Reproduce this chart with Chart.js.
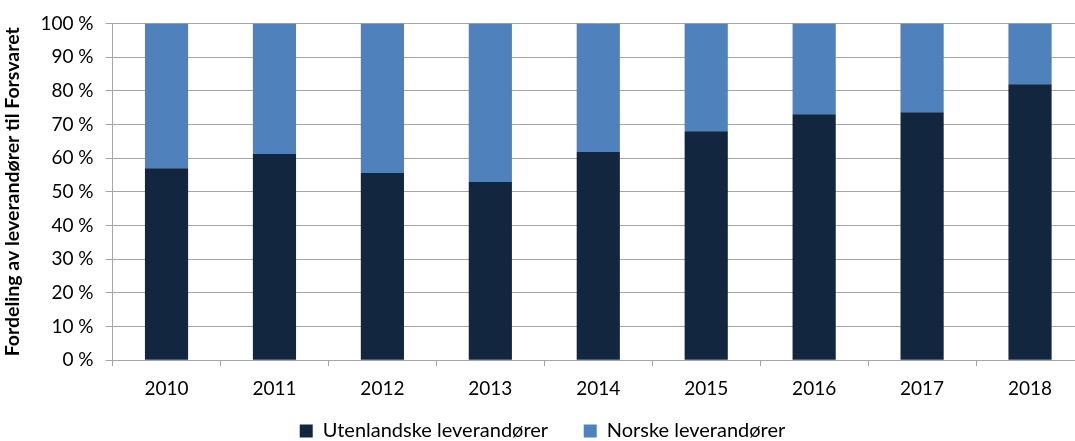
<!DOCTYPE html>
<html>
	<head>
		<meta charset="UTF-8" />
		<title>Chart</title>
		<style type="text/css">
body { margin: 0; overflow: hidden; background: #fff; }
.chartBox { width: 1084px; height: 451px; }
		</style>
	</head>
	<body>
		<script src="https://cdn.jsdelivr.net/npm/chart.js@4"></script>
		<div class="chartBox">
			<canvas id="myChart"></canvas>
		</div>
		<script charset="utf-8">
			const years = ['2010', '2011', '2012', '2013', '2014', '2015', '2016', '2017', '2018'];
			const utenlandske = [57, 61.2, 55.6, 52.9, 61.8, 68, 73, 73.6, 81.9];
			const norske = [43, 38.8, 44.4, 47.1, 38.2, 32, 27, 26.4, 18.1];
			const gridColor = '#a6a6a6';

			const data = {
				labels: years,
				datasets: [{
					label: 'Utenlandske leverandører',
					backgroundColor: '#12263f',
					data: utenlandske,
				}, {
					label: 'Norske leverandører',
					backgroundColor: '#4f81bd',
					data: norske,
				}]
			};

			// legend padding is also the gap between items, so widen the first item a bit
			const legendLabels = chart => Chart.defaults.plugins.legend.labels.generateLabels(chart)
				.map((item, i) => i === 0 ? Object.assign(item, { text: item.text + '     ' }) : item);

			const config = {
				type: 'bar',
				data,
				options: {
					responsive: true,
					maintainAspectRatio: false,
					animation: false,
					datasets: { bar: { barPercentage: 0.4, categoryPercentage: 1 } },
					layout: { padding: { top: 6, left: 1, right: 0, bottom: 0 } },
					plugins: {
						tooltip: { enabled: false },
						legend: {
							position: 'bottom',
							labels: {
								boxWidth: 13,
								boxHeight: 13,
								padding: 10,
								color: '#000',
								font: { family: 'Lato', size: 20 },
								generateLabels: legendLabels
							}
						}
					},
					scales: {
						x: {
							stacked: true,
							grid: { offset: true, drawOnChartArea: false, color: gridColor, tickLength: 6 },
							border: { color: gridColor },
							ticks: { color: '#000', padding: 11, font: { family: 'Lato', size: 19 } }
						},
						y: {
							stacked: true,
							min: 0,
							max: 100,
							grid: { color: gridColor, tickLength: 7 },
							border: { color: gridColor },
							ticks: {
								stepSize: 10,
								color: '#000',
								padding: 12,
								font: { family: 'Lato', size: 19 },
								callback: v => v + ' %'
							},
							title: {
								display: true,
								text: 'Fordeling av leverandører til Forsvaret',
								color: '#000',
								padding: { top: 0, bottom: 4 },
								font: { family: 'Lato', size: 19.5, weight: 'bold' }
							}
						}
					}
				}
			};

			var ctx = document.getElementById('myChart').getContext('2d');
			var myChart = new Chart(ctx, config);
		</script>
	</body>
</html>
